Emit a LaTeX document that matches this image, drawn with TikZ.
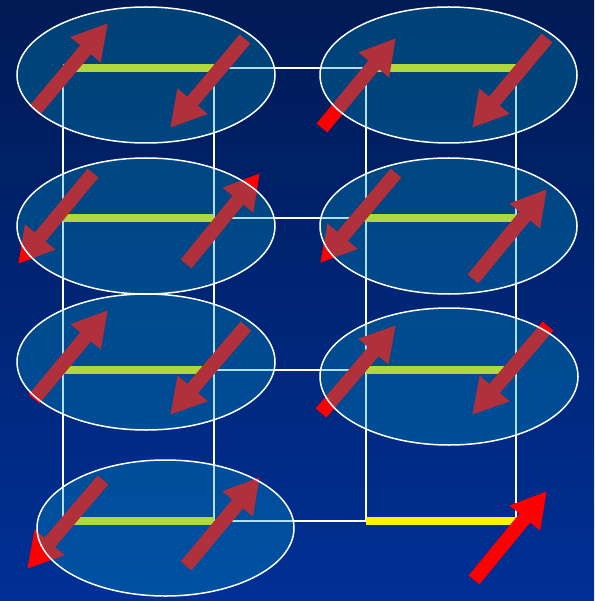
\documentclass[tikz,border=0pt]{standalone}
\usetikzlibrary{arrows.meta}
\definecolor{bgtop}{RGB}{0,26,84}
\definecolor{bgmid}{RGB}{0,44,140}
\definecolor{bgbot}{RGB}{0,48,150}
\definecolor{bubblefill}{RGB}{0,155,194}
\tikzset{
  grid/.style={draw=white, line width=2pt},
  bar/.style={draw=yellow, line width=8pt},
  spin/.style={draw=red, line width=14pt, -{Triangle[width=37pt,length=35pt]}},
  bubble/.style={draw=white, line width=1.5pt, fill=bubblefill, fill opacity=0.31},
}
\begin{document}
\begin{tikzpicture}[x=1pt,y=-1pt]
\useasboundingbox (0,0) rectangle (594,601);
\shade[top color=bgtop, middle color=bgmid, bottom color=bgbot] (0,0) rectangle (594,601);
% ladder corners
\foreach \n/\y in {1/68,2/218,3/370,4/521}{
  \coordinate (La\n) at (63,\y);
  \coordinate (Lb\n) at (214,\y);
  \coordinate (Ra\n) at (366,\y);
  \coordinate (Rb\n) at (516,\y);
}
% white grid
\draw[grid] (La1) -- (La4);
\draw[grid] (Lb1) -- (Lb4);
\draw[grid] (Ra1) -- (Ra4);
\draw[grid] (Rb1) -- (Rb4);
\foreach \n in {1,2,3,4}{ \draw[grid] (Lb\n) -- (Ra\n); }
% bars
\foreach \n in {1,2,3,4}{
  \draw[bar] (La\n) -- (Lb\n);
  \draw[bar] (Ra\n) -- (Rb\n);
}
% spins
\foreach \i/\tx/\ty/\hx/\hy in {
  1/35/110/108/23, 2/245/39/170/128,
  3/93/173/18/264, 4/186/264/260/173,
  5/322/128/396/38, 6/547/38/472/128,
  7/396/173/320/263, 8/473/279/547/189,
  9/34/399/108/310, 10/246/326/170/415,
  11/103/480/27/569, 12/186/566/260/477,
  13/321/413/396/325, 14/548/326/472/415,
  15/474/580/547/491}{
  \coordinate (t\i) at (\tx,\ty);
  \coordinate (h\i) at (\hx,\hy);
  \draw[spin] (t\i) -- (h\i);
}
% bubbles
\draw[bubble] (146,75) ellipse [x radius=129pt, y radius=68pt];
\draw[bubble] (448.5,75) ellipse [x radius=128.5pt, y radius=68pt];
\draw[bubble] (146,226) ellipse [x radius=129pt, y radius=68pt];
\draw[bubble] (448.5,226) ellipse [x radius=128.5pt, y radius=68pt];
\draw[bubble] (146,362) ellipse [x radius=129pt, y radius=68pt];
\draw[bubble] (449,376.5) ellipse [x radius=129pt, y radius=68.5pt];
\draw[bubble] (165.5,528) ellipse [x radius=128.5pt, y radius=68pt];
\end{tikzpicture}
\end{document}
